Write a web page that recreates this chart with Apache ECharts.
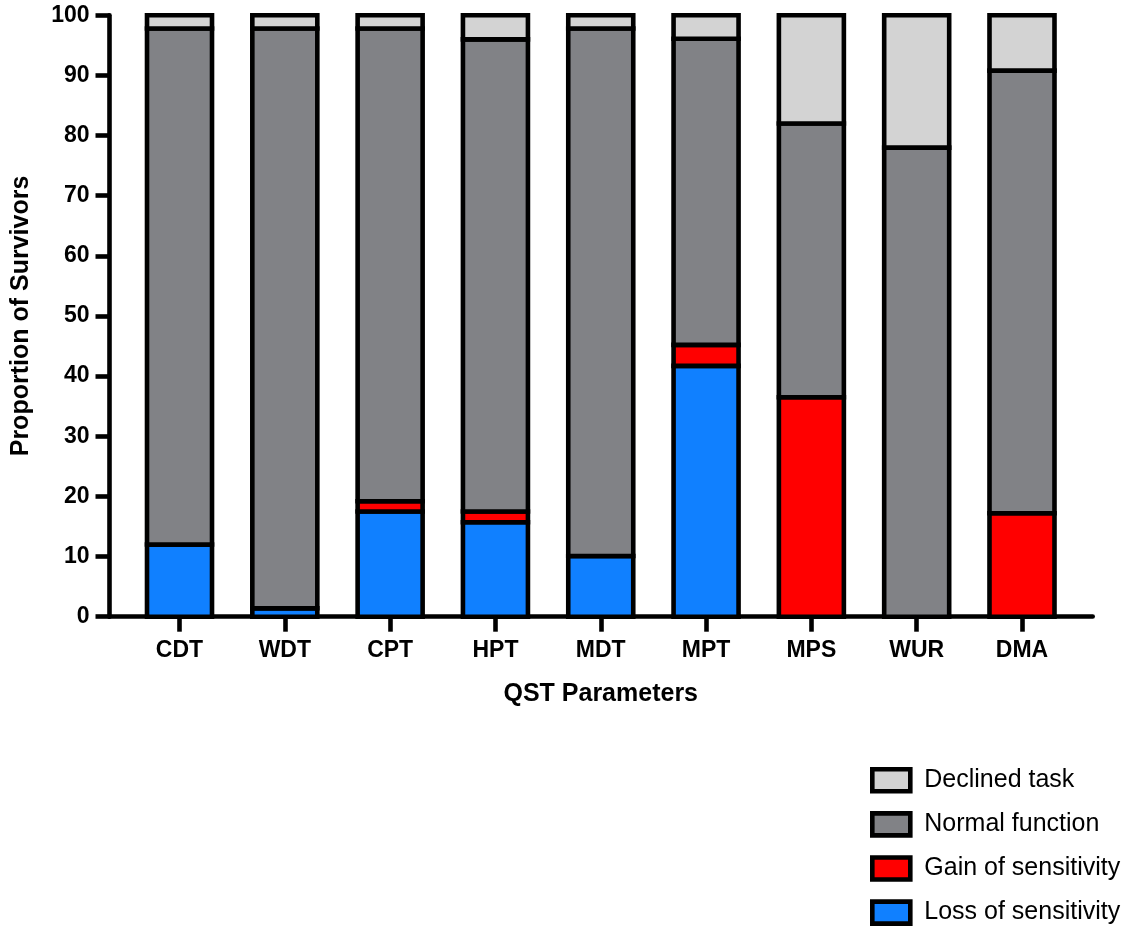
<!DOCTYPE html>
<html>
<head>
<meta charset="utf-8">
<script src="https://cdn.jsdelivr.net/npm/echarts@6/dist/echarts.min.js"></script>
<style>
  html, body { margin: 0; padding: 0; background: #fff; }
  #chart { width: 1130px; height: 926px; }
</style>
</head>
<body>
<div id="chart"></div>
<script>
// ---- Data ----
const categories = ['CDT', 'WDT', 'CPT', 'HPT', 'MDT', 'MPT', 'MPS', 'WUR', 'DMA'];
const lossOfSensitivity = [12.0, 1.4, 17.5, 15.7, 10.1, 41.7, 0, 0, 0];
const gainOfSensitivity = [0, 0, 1.7, 1.8, 0, 3.5, 36.5, 0, 17.2];
const normalFunction   = [85.8, 96.4, 78.6, 78.5, 87.7, 50.9, 45.5, 78.0, 73.6];
const declinedTask     = [2.2, 2.2, 2.2, 4.0, 2.2, 3.9, 18.0, 22.0, 9.2];
const yTicks = { min: 0, max: 100, interval: 10 };
const seriesNames = ['Loss of sensitivity', 'Gain of sensitivity', 'Normal function', 'Declined task'];
const legendOrder = ['Declined task', 'Normal function', 'Gain of sensitivity', 'Loss of sensitivity'];

const FONT = "'Liberation Sans', Arial, Helvetica, sans-serif";
const BW = 4.6;
const BAR_W = 65;
const colors = {
  'Loss of sensitivity': '#1080FF',
  'Gain of sensitivity': '#FF0000',
  'Normal function': '#818286',
  'Declined task': '#D3D3D3'
};
const values = {
  'Loss of sensitivity': lossOfSensitivity,
  'Gain of sensitivity': gainOfSensitivity,
  'Normal function': normalFunction,
  'Declined task': declinedTask
};

// Build stacked [index, start, end] triples for each series
const running = categories.map(() => 0);
const stackedData = {};
seriesNames.forEach(name => {
  stackedData[name] = values[name].map((v, i) => {
    const start = running[i];
    running[i] += v;
    return [i, start, running[i]];
  });
});

function renderSegment(params, api) {
  const idx = api.value(0);
  const p0 = api.coord([idx, api.value(1)]);
  const p1 = api.coord([idx, api.value(2)]);
  return {
    type: 'rect',
    shape: { x: p0[0] - BAR_W / 2, y: p1[1], width: BAR_W, height: p0[1] - p1[1] },
    style: { fill: api.visual('color'), stroke: '#000', lineWidth: BW }
  };
}

const chart = echarts.init(document.getElementById('chart'), null, { renderer: 'canvas' });

const option = {
  backgroundColor: '#ffffff',
  animation: false,
  textStyle: { fontFamily: FONT },
  grid: [
    { left: 126.85, right: 55.35, top: 15.3, bottom: 309.3, containLabel: false },
    { left: 109.5, right: 37.3, top: 15.3, bottom: 309.3, containLabel: false }
  ],
  xAxis: [
    {
      type: 'category',
      gridIndex: 0,
      data: categories,
      axisLine: { show: false },
      axisTick: { show: true, alignWithLabel: true, length: 15, lineStyle: { color: '#000', width: BW } },
      axisLabel: { color: '#000', fontSize: 23, fontWeight: 'bold', fontFamily: FONT, margin: 22 },
      name: 'QST Parameters',
      nameLocation: 'middle',
      nameGap: 65,
      nameTextStyle: { color: '#000', fontSize: 25, fontWeight: 'bold', fontFamily: FONT },
      splitLine: { show: false }
    },
    {
      type: 'value',
      gridIndex: 1,
      min: 0, max: 1,
      axisLine: { show: true, onZero: false, lineStyle: { color: '#000', width: BW } },
      axisTick: { show: false },
      axisLabel: { show: false },
      splitLine: { show: false }
    }
  ],
  yAxis: [
    {
      type: 'value',
      gridIndex: 0,
      min: yTicks.min, max: yTicks.max, interval: yTicks.interval,
      show: false
    },
    {
      type: 'value',
      gridIndex: 1,
      min: yTicks.min, max: yTicks.max, interval: yTicks.interval,
      axisLine: { show: true, lineStyle: { color: '#000', width: BW } },
      axisTick: { show: true, length: 14, lineStyle: { color: '#000', width: BW } },
      axisLabel: { color: '#000', fontSize: 23, fontWeight: 'bold', fontFamily: FONT, margin: 20 },
      splitLine: { show: false },
      name: 'Proportion of Survivors',
      nameLocation: 'middle',
      nameGap: 76,
      nameRotate: 90,
      nameTextStyle: { color: '#000', fontSize: 25, fontWeight: 'bold', fontFamily: FONT }
    }
  ],
  legend: {
    orient: 'vertical',
    left: 870,
    top: 767,
    height: 220,
    padding: 0,
    data: legendOrder,
    itemWidth: 38,
    itemHeight: 22,
    itemGap: 17.5,
    icon: 'rect',
    itemStyle: { borderColor: '#000', borderWidth: BW },
    textStyle: { color: '#000', fontSize: 25, fontFamily: FONT, padding: [0, 0, 0, 9], lineHeight: 25 }
  },
  series: seriesNames.map(name => ({
    name: name,
    type: 'custom',
    xAxisIndex: 0,
    yAxisIndex: 0,
    renderItem: renderSegment,
    encode: { x: 0, y: [1, 2] },
    data: stackedData[name],
    itemStyle: { color: colors[name], borderColor: '#000', borderWidth: BW },
    emphasis: { disabled: true }
  }))
};

chart.setOption(option);
</script>
</body>
</html>
